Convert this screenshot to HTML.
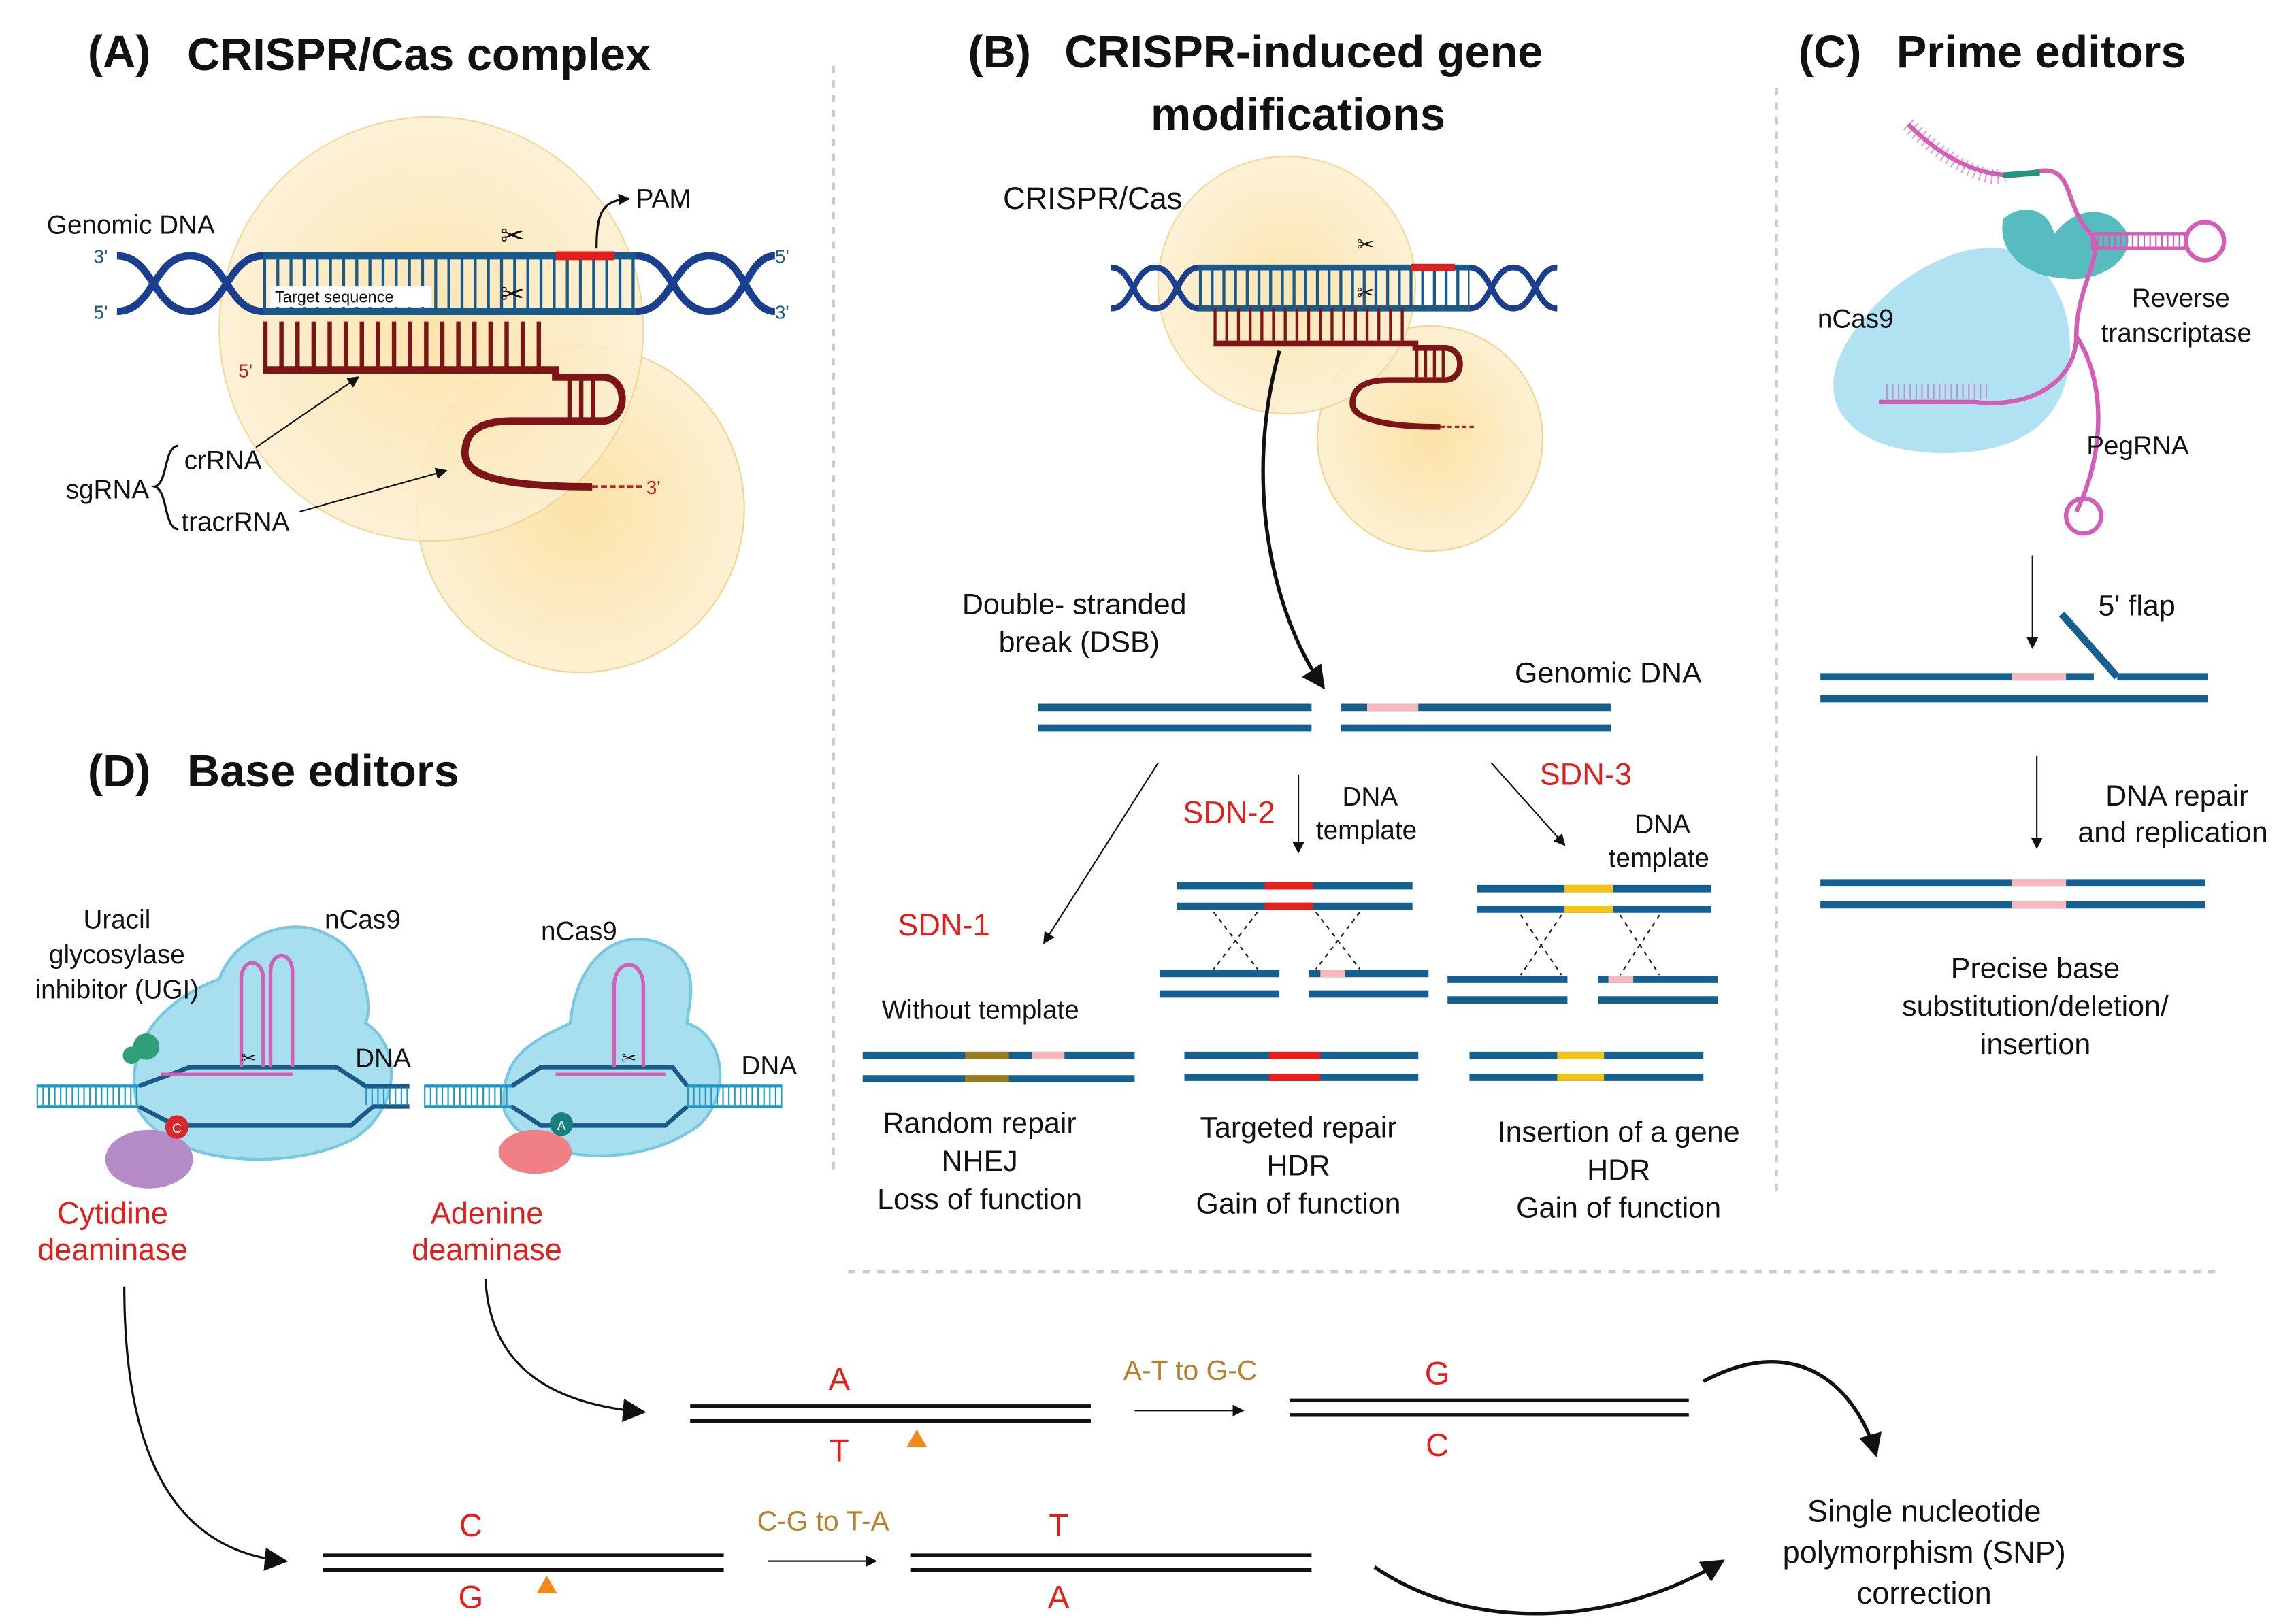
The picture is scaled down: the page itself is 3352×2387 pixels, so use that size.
<!DOCTYPE html>
<html><head><meta charset="utf-8"><style>html,body{margin:0;padding:0;background:#fff}svg{display:block}text{font-family:"Liberation Sans",sans-serif;fill:#111}.t{font-weight:bold}</style></head><body>
<svg width="3352" height="2387" viewBox="0 0 1560 1111" preserveAspectRatio="none" xmlns="http://www.w3.org/2000/svg">
<defs>
<marker id="ar" markerWidth="8" markerHeight="8" refX="7" refY="4" orient="auto" markerUnits="userSpaceOnUse"><path d="M0,0 L8,4 L0,8 z" fill="#111"/></marker>
<marker id="ar2" markerWidth="16" markerHeight="16" refX="14" refY="8" orient="auto" markerUnits="userSpaceOnUse"><path d="M0,0 L16,8 L0,16 z" fill="#111"/></marker>
<radialGradient id="cg" cx="50%" cy="50%" r="50%"><stop offset="0" stop-color="#fbe2a6"/><stop offset="1" stop-color="#fdf0d2"/></radialGradient>
</defs>
<g stroke="#ccc" stroke-width="2" stroke-dasharray="5 5" fill="none">
<line x1="570" y1="45" x2="570" y2="800"/><line x1="1215" y1="60" x2="1215" y2="815"/><line x1="580" y1="870" x2="1515" y2="870"/></g>

<!-- Panel A -->
<text class="t" x="60" y="46" font-size="31">(A)</text><text class="t" x="128" y="48" font-size="31">CRISPR/Cas complex</text>
<circle cx="397" cy="348" r="112" fill="url(#cg)" stroke="#f3d590"/>
<circle cx="295" cy="225" r="145" fill="url(#cg)" stroke="#f3d590" opacity="0.9"/>
<g fill="none" stroke="#1a3f8f" stroke-width="5">
<path d="M80,175 C105,175 105,213 130,213 C155,213 155,175 180,175"/>
<path d="M80,213 C105,213 105,175 130,175 C155,175 155,213 180,213"/>
<path d="M435,175 C460,175 460,213 485,213 C510,213 510,175 530,175"/>
<path d="M435,213 C460,213 460,175 485,175 C510,175 510,213 530,213"/></g>
<line x1="180" y1="194" x2="435" y2="194" stroke="#1a5a8a" stroke-width="34" stroke-dasharray="2 7"/>
<line x1="180" y1="175" x2="435" y2="175" stroke="#1a5a8a" stroke-width="5"/>
<line x1="180" y1="213" x2="435" y2="213" stroke="#1a5a8a" stroke-width="5"/>
<line x1="380" y1="175" x2="420" y2="175" stroke="#e0201c" stroke-width="6"/>
<rect x="185" y="196" width="110" height="14" fill="#fff"/>
<text x="188" y="207" font-size="11">Target sequence</text>
<line x1="180" y1="236" x2="378" y2="236" stroke="#7d1416" stroke-width="32" stroke-dasharray="3 8"/>
<line x1="388" y1="273" x2="412" y2="273" stroke="#7d1416" stroke-width="30" stroke-dasharray="3 5"/>
<path d="M180,253 L380,253 L380,258 L412,258 C430,258 430,288 412,288 L350,288 C325,288 318,298 318,310 C318,325 340,333 405,333" fill="none" stroke="#7d1416" stroke-width="5"/>
<line x1="405" y1="333" x2="440" y2="333" stroke="#b22" stroke-width="2" stroke-dasharray="4 2"/>
<text x="442" y="338" font-size="13" style="fill:#b22">3'</text>
<text x="163" y="258" font-size="13" style="fill:#b22">5'</text>
<text x="64" y="180" font-size="13" style="fill:#1a5a8a">3'</text><text x="64" y="218" font-size="13" style="fill:#1a5a8a">5'</text>
<text x="530" y="180" font-size="13" style="fill:#1a5a8a">5'</text><text x="530" y="218" font-size="13" style="fill:#1a5a8a">3'</text>
<text x="32" y="160" font-size="18">Genomic DNA</text>
<text x="435" y="142" font-size="18">PAM</text>
<path d="M408,170 C408,145 412,137 430,136" fill="none" stroke="#111" stroke-width="1.5" marker-end="url(#ar)"/>
<text x="342" y="168" font-size="20">✂</text><text x="342" y="208" font-size="20">✂</text>
<text x="45" y="341" font-size="18">sgRNA</text>
<path d="M122,305 C112,305 115,330 106,333 C115,336 112,362 122,362" fill="none" stroke="#111" stroke-width="1.5"/>
<text x="126" y="321" font-size="18">crRNA</text><text x="124" y="363" font-size="18">tracrRNA</text>
<line x1="175" y1="306" x2="245" y2="258" stroke="#111" stroke-width="1" marker-end="url(#ar)"/>
<line x1="205" y1="350" x2="305" y2="322" stroke="#111" stroke-width="1" marker-end="url(#ar)"/>

<!-- Panel B -->
<text class="t" x="662" y="46" font-size="31">(B)</text><text class="t" x="728" y="46" font-size="31">CRISPR-induced gene</text><text class="t" x="787" y="89" font-size="31">modifications</text>
<text x="686" y="143" font-size="21">CRISPR/Cas</text>
<circle cx="978" cy="300" r="77" fill="url(#cg)" stroke="#f3d590"/>
<circle cx="880" cy="195" r="88" fill="url(#cg)" stroke="#f3d590" opacity="0.9"/>
<g fill="none" stroke="#1a3f8f" stroke-width="4">
<path d="M760,183 C775,183 775,211 790,211 C805,211 805,183 820,183 M760,211 C775,211 775,183 790,183 C805,183 805,211 820,211"/>
<path d="M1005,183 C1020,183 1020,211 1035,211 C1050,211 1050,183 1065,183 M1005,211 C1020,211 1020,183 1035,183 C1050,183 1050,211 1065,211"/></g>
<line x1="820" y1="197" x2="1005" y2="197" stroke="#1a5a8a" stroke-width="24" stroke-dasharray="2 6"/>
<line x1="820" y1="183" x2="1005" y2="183" stroke="#1a5a8a" stroke-width="4"/>
<line x1="820" y1="211" x2="1005" y2="211" stroke="#1a5a8a" stroke-width="4"/>
<line x1="965" y1="183" x2="995" y2="183" stroke="#e0201c" stroke-width="5"/>
<line x1="830" y1="222" x2="965" y2="222" stroke="#7d1416" stroke-width="22" stroke-dasharray="2 6"/>
<line x1="968" y1="248" x2="990" y2="248" stroke="#7d1416" stroke-width="20" stroke-dasharray="2 4"/>
<path d="M830,235 L968,235 L968,238 L988,238 C1002,238 1002,260 988,260 L950,260 C930,260 925,268 925,276 C925,286 945,292 985,292" fill="none" stroke="#7d1416" stroke-width="4"/>
<line x1="985" y1="292" x2="1008" y2="292" stroke="#b22" stroke-width="1.5" stroke-dasharray="3 2"/>
<text x="928" y="172" font-size="14">✂</text><text x="928" y="205" font-size="14">✂</text>
<path d="M875,240 C850,330 870,420 905,470" fill="none" stroke="#111" stroke-width="2.5" marker-end="url(#ar2)"/>
<text x="658" y="420" font-size="20">Double- stranded</text><text x="683" y="446" font-size="20">break (DSB)</text>
<text x="1036" y="467" font-size="20">Genomic DNA</text>
<g stroke="#16608f" stroke-width="5">
<line x1="710" y1="484" x2="897" y2="484"/><line x1="710" y1="498" x2="897" y2="498"/>
<line x1="917" y1="484" x2="1102" y2="484"/><line x1="917" y1="498" x2="1102" y2="498"/></g>
<line x1="935" y1="484" x2="970" y2="484" stroke="#f4b8bd" stroke-width="5"/>
<line x1="792" y1="522" x2="714" y2="645" stroke="#111" stroke-width="1" marker-end="url(#ar)"/>
<line x1="888" y1="530" x2="888" y2="583" stroke="#111" stroke-width="1" marker-end="url(#ar)"/>
<line x1="1020" y1="522" x2="1070" y2="578" stroke="#111" stroke-width="1" marker-end="url(#ar)"/>
<text x="614" y="640" font-size="21" style="fill:#e0201c">SDN-1</text>
<text x="809" y="563" font-size="21" style="fill:#e0201c">SDN-2</text>
<text x="1053" y="537" font-size="21" style="fill:#e0201c">SDN-3</text>
<text x="918" y="551" font-size="18">DNA</text><text x="900" y="574" font-size="18">template</text>
<text x="1118" y="570" font-size="18">DNA</text><text x="1100" y="593" font-size="18">template</text>
<text x="603" y="697" font-size="18">Without template</text>
<g stroke="#16608f" stroke-width="5">
<line x1="590" y1="722" x2="776" y2="722"/><line x1="590" y1="738" x2="776" y2="738"/>
<line x1="805" y1="606" x2="966" y2="606"/><line x1="805" y1="620" x2="966" y2="620"/>
<line x1="793" y1="666" x2="875" y2="666"/><line x1="793" y1="680" x2="875" y2="680"/>
<line x1="895" y1="666" x2="977" y2="666"/><line x1="895" y1="680" x2="977" y2="680"/>
<line x1="810" y1="722" x2="970" y2="722"/><line x1="810" y1="737" x2="970" y2="737"/>
<line x1="1010" y1="608" x2="1170" y2="608"/><line x1="1010" y1="622" x2="1170" y2="622"/>
<line x1="990" y1="670" x2="1072" y2="670"/><line x1="990" y1="684" x2="1072" y2="684"/>
<line x1="1093" y1="670" x2="1175" y2="670"/><line x1="1093" y1="684" x2="1175" y2="684"/>
<line x1="1005" y1="722" x2="1165" y2="722"/><line x1="1005" y1="737" x2="1165" y2="737"/></g>
<g stroke-width="5">
<line x1="660" y1="722" x2="690" y2="722" stroke="#9a7b22"/><line x1="660" y1="738" x2="690" y2="738" stroke="#9a7b22"/>
<line x1="706" y1="722" x2="728" y2="722" stroke="#f4b8bd"/>
<line x1="865" y1="606" x2="898" y2="606" stroke="#e8201c"/><line x1="865" y1="620" x2="898" y2="620" stroke="#e8201c"/>
<line x1="903" y1="666" x2="920" y2="666" stroke="#f4b8bd"/>
<line x1="868" y1="722" x2="903" y2="722" stroke="#e8201c"/><line x1="868" y1="737" x2="903" y2="737" stroke="#e8201c"/>
<line x1="1070" y1="608" x2="1103" y2="608" stroke="#f0c419"/><line x1="1070" y1="622" x2="1103" y2="622" stroke="#f0c419"/>
<line x1="1100" y1="670" x2="1117" y2="670" stroke="#f4b8bd"/>
<line x1="1065" y1="722" x2="1097" y2="722" stroke="#f0c419"/><line x1="1065" y1="737" x2="1097" y2="737" stroke="#f0c419"/></g>
<g stroke="#222" stroke-width="1" stroke-dasharray="3 3">
<line x1="860" y1="624" x2="830" y2="663"/><line x1="830" y1="624" x2="860" y2="663"/>
<line x1="900" y1="624" x2="930" y2="663"/><line x1="930" y1="624" x2="900" y2="663"/>
<line x1="1068" y1="626" x2="1040" y2="667"/><line x1="1040" y1="626" x2="1068" y2="667"/>
<line x1="1108" y1="626" x2="1135" y2="667"/><line x1="1135" y1="626" x2="1108" y2="667"/></g>
<g font-size="20" text-anchor="middle">
<text x="670" y="775">Random repair</text><text x="670" y="801">NHEJ</text><text x="670" y="827">Loss of function</text>
<text x="888" y="778">Targeted repair</text><text x="888" y="804">HDR</text><text x="888" y="830">Gain of function</text>
<text x="1107" y="781">Insertion of a gene</text><text x="1107" y="807">HDR</text><text x="1107" y="833">Gain of function</text></g>

<!-- Panel C -->
<text class="t" x="1230" y="46" font-size="31">(C)</text><text class="t" x="1297" y="46" font-size="31">Prime editors</text>
<path d="M1260,240 C1240,280 1270,310 1330,310 C1380,310 1410,290 1415,250 C1420,210 1400,175 1370,170 C1330,165 1280,200 1260,240 z" fill="#a9dfef" opacity="0.9"/>
<path d="M1370,150 C1380,140 1400,140 1405,160 C1420,140 1445,140 1455,160 C1460,180 1430,195 1410,190 C1390,190 1365,175 1370,150 z" fill="#57bcc0"/>
<path d="M1305,85 C1330,110 1360,125 1390,118 C1420,110 1410,140 1430,160 C1440,175 1420,195 1420,230 C1420,260 1390,280 1350,275 L1285,275" fill="none" stroke="#d25fb5" stroke-width="3"/>
<path d="M1305,85 C1330,110 1360,125 1370,120" fill="none" stroke="#d25fb5" stroke-width="10" stroke-dasharray="1 3" opacity="0.6"/>
<line x1="1290" y1="268" x2="1360" y2="268" stroke="#d25fb5" stroke-width="10" stroke-dasharray="1 3" opacity="0.6"/>
<path d="M1430,160 L1495,160 M1430,170 L1495,170" stroke="#d25fb5" stroke-width="2.5"/>
<line x1="1430" y1="165" x2="1495" y2="165" stroke="#d25fb5" stroke-width="10" stroke-dasharray="1 3"/>
<circle cx="1508" cy="165" r="13" fill="none" stroke="#d25fb5" stroke-width="3"/>
<path d="M1420,230 C1440,260 1440,310 1420,350" fill="none" stroke="#d25fb5" stroke-width="3"/>
<circle cx="1425" cy="353" r="12" fill="none" stroke="#d25fb5" stroke-width="3"/>
<line x1="1370" y1="120" x2="1395" y2="118" stroke="#22957a" stroke-width="4"/>
<text x="1243" y="224" font-size="18">nCas9</text>
<text x="1458" y="210" font-size="18">Reverse</text><text x="1437" y="234" font-size="18">transcriptase</text>
<text x="1427" y="311" font-size="18">PegRNA</text>
<line x1="1390" y1="380" x2="1390" y2="443" stroke="#111" stroke-width="1" marker-end="url(#ar)"/>
<text x="1435" y="421" font-size="20">5' flap</text>
<g stroke="#16608f" stroke-width="5">
<line x1="1245" y1="463" x2="1432" y2="463"/><line x1="1448" y1="463" x2="1510" y2="463"/><line x1="1448" y1="463" x2="1410" y2="420"/>
<line x1="1245" y1="478" x2="1510" y2="478"/>
<line x1="1245" y1="604" x2="1508" y2="604"/><line x1="1245" y1="619" x2="1508" y2="619"/></g>
<line x1="1376" y1="463" x2="1413" y2="463" stroke="#f4b8bd" stroke-width="5"/>
<line x1="1376" y1="604" x2="1413" y2="604" stroke="#f4b8bd" stroke-width="5"/><line x1="1376" y1="619" x2="1413" y2="619" stroke="#f4b8bd" stroke-width="5"/>
<line x1="1393" y1="517" x2="1393" y2="580" stroke="#111" stroke-width="1" marker-end="url(#ar)"/>
<text x="1440" y="551" font-size="20">DNA repair</text><text x="1421" y="576" font-size="20">and replication</text>
<g font-size="20" text-anchor="middle"><text x="1392" y="669">Precise base</text><text x="1392" y="695">substitution/deletion/</text><text x="1392" y="721">insertion</text></g>

<!-- Panel D -->
<text class="t" x="60" y="538" font-size="31">(D)</text><text class="t" x="128" y="538" font-size="31">Base editors</text>
<path d="M95,760 C80,710 120,680 150,670 C160,640 200,625 225,640 C250,650 255,690 250,700 C275,715 275,760 240,780 C200,800 120,800 95,760 z" fill="#9fdcee" stroke="#6ac4dd" stroke-width="2" opacity="0.9"/>
<path d="M345,760 C340,720 370,710 390,700 C395,650 430,630 460,650 C480,665 470,690 470,700 C500,710 500,760 470,775 C430,800 360,795 345,760 z" fill="#9fdcee" stroke="#6ac4dd" stroke-width="2" opacity="0.9"/>
<g stroke="#1c97c4" stroke-width="2">
<line x1="25" y1="743" x2="95" y2="743"/><line x1="25" y1="757" x2="95" y2="757"/>
<line x1="25" y1="750" x2="95" y2="750" stroke-width="12" stroke-dasharray="1 3"/>
<path d="M95,743 L130,730 L230,730 L250,743 L280,743 M95,757 L120,770 L240,770 L255,757 L280,757" fill="none" stroke="#1a5a8a" stroke-width="3"/>
<line x1="290" y1="743" x2="350" y2="743"/><line x1="290" y1="757" x2="350" y2="757"/>
<line x1="290" y1="750" x2="350" y2="750" stroke-width="12" stroke-dasharray="1 3"/>
<line x1="470" y1="743" x2="535" y2="743"/><line x1="470" y1="757" x2="535" y2="757"/>
<line x1="470" y1="750" x2="535" y2="750" stroke-width="12" stroke-dasharray="1 3"/>
<line x1="250" y1="750" x2="280" y2="750" stroke-width="12" stroke-dasharray="1 3"/>
<path d="M350,743 L370,730 L460,730 L470,743 M350,757 L370,770 L455,770 L470,757" fill="none" stroke="#1a5a8a" stroke-width="3"/></g>
<path d="M110,735 L200,735 M165,730 L165,670 C165,655 180,655 180,670 L180,730 M185,730 L185,665 C185,650 200,650 200,665 L200,730" fill="none" stroke="#d25fb5" stroke-width="2.5"/>
<path d="M380,735 L455,735 M420,730 L420,675 C420,655 440,655 440,675 L440,730" fill="none" stroke="#d25fb5" stroke-width="2.5"/>
<ellipse cx="102" cy="793" rx="30" ry="20" fill="#b48ac7"/>
<ellipse cx="366" cy="788" rx="25" ry="15" fill="#f17f86"/>
<circle cx="100" cy="716" r="9" fill="#2fa07a"/><circle cx="90" cy="722" r="6" fill="#2fa07a"/>
<circle cx="121" cy="771" r="8" fill="#d7282e"/><text x="121" y="775" font-size="9" text-anchor="middle" style="fill:#fff">C</text>
<circle cx="384" cy="769" r="8" fill="#177f80"/><text x="384" y="773" font-size="9" text-anchor="middle" style="fill:#fff">A</text>
<text x="165" y="728" font-size="12">✂</text><text x="425" y="728" font-size="12">✂</text>
<g font-size="18" text-anchor="middle"><text x="80" y="635">Uracil</text><text x="80" y="659">glycosylase</text><text x="80" y="683">inhibitor (UGI)</text></g>
<text x="222" y="635" font-size="18">nCas9</text><text x="370" y="643" font-size="18">nCas9</text>
<text x="243" y="730" font-size="18">DNA</text><text x="507" y="735" font-size="18">DNA</text>
<g font-size="21" text-anchor="middle"><text x="77" y="837" style="fill:#e0201c">Cytidine</text><text x="77" y="862" style="fill:#e0201c">deaminase</text>
<text x="333" y="837" style="fill:#e0201c">Adenine</text><text x="333" y="862" style="fill:#e0201c">deaminase</text></g>

<!-- bottom -->
<path d="M332,875 C335,930 370,960 440,966" fill="none" stroke="#111" stroke-width="1.5" marker-end="url(#ar2)"/>
<path d="M85,880 C85,980 110,1060 195,1068" fill="none" stroke="#111" stroke-width="1.5" marker-end="url(#ar2)"/>
<g stroke="#111" stroke-width="2.5">
<line x1="472" y1="962" x2="746" y2="962"/><line x1="472" y1="972" x2="746" y2="972"/>
<line x1="882" y1="958" x2="1155" y2="958"/><line x1="882" y1="968" x2="1155" y2="968"/>
<line x1="221" y1="1064" x2="495" y2="1064"/><line x1="221" y1="1074" x2="495" y2="1074"/>
<line x1="623" y1="1064" x2="897" y2="1064"/><line x1="623" y1="1074" x2="897" y2="1074"/></g>
<line x1="776" y1="965" x2="850" y2="965" stroke="#111" stroke-width="1" marker-end="url(#ar)"/>
<line x1="525" y1="1068" x2="599" y2="1068" stroke="#111" stroke-width="1" marker-end="url(#ar)"/>
<path d="M620,990 L627,978 L634,990 z" fill="#f08a1c"/><path d="M367,1090 L374,1078 L381,1090 z" fill="#f08a1c"/>
<g font-size="22" text-anchor="middle"><text x="574" y="951" style="fill:#e0201c">A</text><text x="574" y="1000" style="fill:#e0201c">T</text>
<text x="983" y="947" style="fill:#e0201c">G</text><text x="983" y="996" style="fill:#e0201c">C</text>
<text x="322" y="1051" style="fill:#e0201c">C</text><text x="322" y="1100" style="fill:#e0201c">G</text>
<text x="724" y="1051" style="fill:#e0201c">T</text><text x="724" y="1100" style="fill:#e0201c">A</text></g>
<text x="814" y="944" font-size="19" text-anchor="middle" style="fill:#b5812a">A-T to G-C</text>
<text x="563" y="1047" font-size="19" text-anchor="middle" style="fill:#b5812a">C-G to T-A</text>
<path d="M1165,945 C1230,910 1270,950 1283,995" fill="none" stroke="#111" stroke-width="2.5" marker-end="url(#ar2)"/>
<path d="M940,1072 C1010,1120 1110,1110 1178,1068" fill="none" stroke="#111" stroke-width="2.5" marker-end="url(#ar2)"/>
<g font-size="21" text-anchor="middle"><text x="1316" y="1041">Single nucleotide</text><text x="1316" y="1069">polymorphism (SNP)</text><text x="1316" y="1097">correction</text></g>
</svg>
</body></html>
